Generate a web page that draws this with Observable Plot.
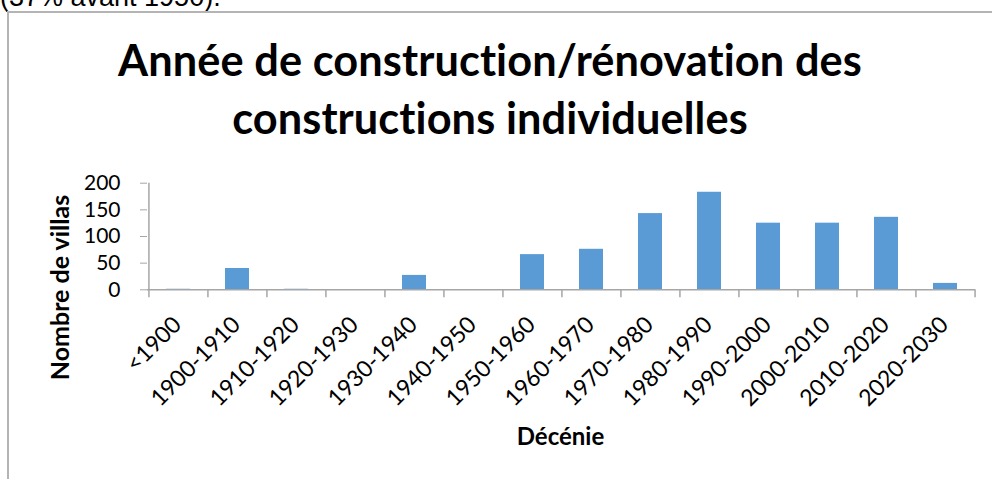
<!DOCTYPE html>
<html><head><meta charset="utf-8">
<script src="https://cdn.jsdelivr.net/npm/d3@7"></script>
<script src="https://cdn.jsdelivr.net/npm/@observablehq/plot@0.6"></script>
<style>
body{margin:0;background:#fff;}
#wrap{position:relative;width:992px;height:479px;overflow:hidden;font-family:Lato,sans-serif;color:#000;font-variant-ligatures:none;font-feature-settings:"liga" 0,"clig" 0,"dlig" 0,"calt" 0;}
.abs{position:absolute;white-space:nowrap;}
.nolig{letter-spacing:0.1px;}
svg text{font-variant-ligatures:none;font-feature-settings:"liga" 0,"clig" 0,"dlig" 0,"calt" 0;}
</style></head><body>
<div id="wrap">
  <div class="abs" style="left:0;top:-16px;font:27px/27px 'Liberation Sans',Arial,sans-serif;">(37% avant 1950).</div>
  <div class="abs" style="left:7px;top:11px;width:1000px;height:480px;border-left:2px solid #b4b4b4;border-top:2px solid #b4b4b4;"></div>
  <div class="abs nolig" id="t1" style="left:90px;width:800px;top:37.5px;text-align:center;font:700 43.3px/43.5px Lato,sans-serif;"></div>
  <div class="abs nolig" id="t2" style="left:90px;width:800px;top:95.5px;text-align:center;font:700 43.3px/43.5px Lato,sans-serif;"></div>
  <div class="abs" id="ylab" style="left:-91.5px;top:275px;width:300px;height:25px;text-align:center;font:700 25px/25px Lato,sans-serif;transform:rotate(-90deg);"></div>
  <div class="abs" id="xlab" style="left:410.5px;top:424px;width:300px;text-align:center;font:700 24px/24px Lato,sans-serif;"></div>
  <div class="abs" id="chart" style="left:0;top:160px;"></div>
</div>
<script>
const titleLines = ["Année de construction/rénovation des", "constructions individuelles"];
const yLabel = "Nombre de villas";
const xLabel = "Décénie";
const categories = ["<1900","1900-1910","1910-1920","1920-1930","1930-1940","1940-1950","1950-1960","1960-1970","1970-1980","1980-1990","1990-2000","2000-2010","2010-2020","2020-2030"];
const values = [1,40,1,0,27,0,66,76,143,183,125,125,136,12];
const yTicks = [0,50,100,150,200];

document.getElementById("t1").textContent = titleLines[0];
document.getElementById("t2").textContent = titleLines[1];
document.getElementById("ylab").textContent = yLabel;
document.getElementById("xlab").textContent = xLabel;

const data = categories.map((c,i)=>({cat:c, n:values[i]}));
const W=992, H=319, mL=147, mR=17, mT=22.7, mB=189.7;
const step=(W-mL-mR)/categories.length;
const gray="#a6a6a6";
const chart = Plot.plot({
  width:W, height:H, marginLeft:mL, marginRight:mR, marginTop:mT, marginBottom:mB,
  style:{fontFamily:"Lato, sans-serif", fontSize:"21px", color:"#000", background:"transparent", overflow:"visible"},
  x:{domain:categories, paddingInner:0.6, paddingOuter:0.3},
  y:{domain:[0,200]},
  marks:[
    Plot.barY(data,{x:"cat", y:"n", fill:"#5b9bd5"}),
    Plot.ruleY([0],{stroke:gray, strokeWidth:1.5}),
    Plot.ruleX([categories[0]],{x:d=>d, y1:0, y2:200, dx:-step/2, stroke:gray, strokeWidth:1.5}),
    Plot.axisY({ticks:yTicks, tickSize:7, tickPadding:20, stroke:gray, fill:"#000", label:null, fontSize:21}),
    Plot.axisX({tickSize:8, dx:-step/2, tickFormat:()=>"", stroke:gray, strokeWidth:1.5, label:null}),
    Plot.axisX([categories[categories.length-1]],{tickSize:8, dx:step/2, tickFormat:()=>"", stroke:gray, strokeWidth:1.5, label:null}),
    Plot.axisX({tickSize:0, tickRotate:-45, tickPadding:31, dx:-1, label:null, fontSize:23, fill:"#000"})
  ]
});
document.getElementById("chart").appendChild(chart);
</script>
</body></html>
